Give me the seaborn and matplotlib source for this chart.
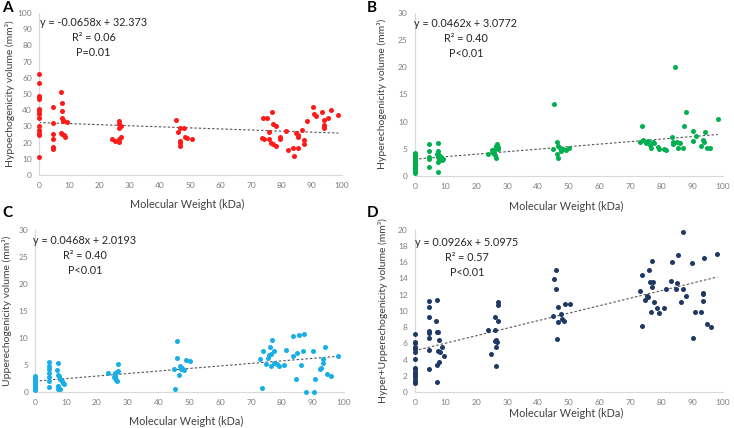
import numpy as np
import pandas as pd
import matplotlib
matplotlib.use('Agg')
import matplotlib.pyplot as plt
import seaborn as sns

## Data
# Panel A : hypoechogenicity
A_x = [0]*15 + [4.5]*6 + \
      [7.3, 7.5, 7.5, 7.5, 7.8, 7.3, 7.5, 8, 8.2, 8.5, 9.2] + \
      [24, 25, 26.3, 26.5, 26.5, 27, 27, 26.5, 26.3] + \
      [45.3, 45.8, 46.4, 47.7, 46.7, 46.4, 46.5, 48.1, 48.9, 50.5] + \
      [77, 74, 75.1, 77.3, 78.2, 75.9, 73.5, 74.4, 75.9, 76.6, 77.3, 78.2, 79.5, 79.5,
       81.4, 82.1, 83.9, 84.3, 85.6, 84.8, 85.6, 85.6, 86.9, 87.6, 87.6, 88.3, 90.5,
       90.9, 91.4, 93.3, 94, 94, 94, 95.3, 96.5, 98.8, 94]
A_y = [62.5, 57, 49, 48, 47, 41, 40, 38.5, 37.5, 35, 30, 28, 26, 24.5, 11] + \
      [42, 32, 25.5, 22, 17, 16] + \
      [51, 44.5, 39.5, 35, 33.5, 26, 25, 34, 24.5, 23.5, 33] + \
      [22, 21, 33.5, 31.5, 29, 30, 23.5, 22.5, 20.5] + \
      [34, 26.7, 28.8, 29, 21, 18, 20, 23.6, 22.6, 22] + \
      [39, 35.4, 35, 31.5, 30.2, 26.7, 23, 22.4, 22, 20, 19, 17.9, 23.3, 22,
       27.4, 15.4, 16.5, 11.9, 16.5, 26.1, 23.7, 24.5, 27.8, 21.6, 19.1, 33.3, 41.8,
       37.7, 36.6, 38.7, 34, 30.9, 28.8, 35, 40.3, 36.8, 30]

# Panel B : hyperechogenicity
B_x = [0]*13 + [4.5]*5 + \
      [7.5, 7.5, 7.3, 7.8, 7.5, 8, 8.5, 9, 9.3, 7.6, 7.5] + \
      [23.8, 25, 25.5, 26, 26.5, 26.8, 27, 26, 26.5, 27] + \
      [45.3, 45, 46, 46.5, 47, 46.5, 47.5, 48, 49, 50, 46] + \
      [73.6, 73.1, 74.2, 74.9, 75.8, 76.3, 76.6, 77.2, 77.6, 79, 79.3, 80.9, 81.5,
       83.3, 83.7, 83.9, 85, 85.5, 86.1, 87.1, 87.3, 87.9, 90.2, 90.4, 91.1, 92.8,
       93.4, 93.7, 94.1, 94.7, 95.8, 98.3, 84.5]
B_y = [4.2, 3.9, 3.6, 3.3, 3.0, 2.7, 2.4, 2.1, 1.8, 1.5, 1.2, 0.9, 0.6] + \
      [5.8, 4.6, 3.5, 3.1, 1.7] + \
      [6.0, 4.5, 4.1, 3.8, 3.4, 3.1, 3.5, 3.0, 3.2, 2.5, 0.8] + \
      [4.0, 4.8, 4.3, 5.0, 5.5, 5.8, 5.3, 3.8, 3.3, 4.9] + \
      [13.3, 5.0, 6.2, 5.5, 5.2, 3.3, 4.5, 5.0, 4.7, 5.1, 4.0] + \
      [9.2, 6.3, 6.6, 6.0, 6.5, 5.7, 5.1, 6.3, 6.0, 5.4, 5.0, 5.0, 4.7,
       7.1, 6.3, 5.8, 6.3, 5.1, 6.0, 5.2, 9.1, 11.7, 8.2, 6.5, 7.4, 5.5,
       6.6, 6.2, 8.1, 5.2, 5.2, 10.5, 20.0]

# Panel C : upperechogenicity
C_x = [0]*10 + [4.5]*7 + \
      [7.3, 7, 7.5, 7.8, 8, 8.3, 8.8, 9, 9.3, 7.5, 7.5, 8] + \
      [23.5, 26, 26.5, 26, 26, 26.3, 26.5, 27, 27, 25.5] + \
      [46, 46.1, 50.3, 48.9, 45.1, 45.5, 46.5, 46.9, 47.6, 48.2, 47.2] + \
      [73.7, 73, 73.9, 74.8, 75.4, 75.7, 76.2, 76.4, 76.8, 77.3, 77.5, 76.5, 78.4,
       79.2, 80.8, 81.4, 83.6, 83.6, 84.9, 85.4, 84.5, 86.3, 87, 87.2, 87.8, 90.1,
       90.3, 90.9, 92.4, 92.7, 93.3, 93.5, 94, 94.8, 95.9, 98.2]
C_y = [3.0, 2.7, 2.4, 2.1, 1.8, 1.5, 1.2, 0.9, 0.6, 0.3] + \
      [5.5, 4.9, 4.3, 3.5, 2.8, 2.0, 1.0] + \
      [5.3, 4.0, 3.2, 2.9, 2.5, 2.2, 2.0, 1.6, 1.4, 1.2, 0.6, 0.5] + \
      [3.5, 3.5, 3.8, 3.0, 2.6, 2.3, 2.1, 5.2, 3.9, 2.8] + \
      [9.4, 6.3, 5.7, 6.0, 4.3, 0.6, 3.2, 4.9, 4.5, 4.0, 4.2] + \
      [0.7, 6.1, 7.5, 5.1, 6.3, 6.9, 8.3, 7.0, 9.7, 7.5, 5.4, 4.9, 5.1,
       4.9, 5.0, 7.8, 10.3, 6.6, 7.3, 10.5, 2.4, 5.0, 7.5, 10.7, 0.1, 7.6,
       0.1, 2.4, 4.2, 4.5, 5.4, 6.1, 8.4, 3.3, 2.9, 6.6]

# Panel D : hyper + upperechogenicity
D_x = [0]*16 + [4.5]*8 + \
      [7.3, 7, 7.2, 7.6, 8, 7.5, 8.2, 9, 9.5, 8, 7.3, 7.3] + \
      [23.8, 24.9, 26.2, 26.9, 26, 25.9, 26.4, 26.6, 26.5, 26.5, 27, 27.1] + \
      [45.3, 45.8, 45.9, 44.9, 46.4, 46.4, 46.2, 47.5, 47.8, 48.3, 48.9, 50.3] + \
      [87.1, 85.5, 98.2, 93.8, 89.9, 83.6, 76.9, 76.1, 73.8, 76.3, 77.4, 76.9, 83.2,
       85, 84.8, 87.1, 81.5, 73.1, 75.2, 75.6, 74.8, 77.7, 87.9, 86.4, 93.4, 93.6,
       93.4, 78.7, 80.9, 79.1, 76.5, 90.9, 92.8, 73.6, 94.9, 96, 90.2]
D_y = [7.2, 6.2, 6.0, 5.6, 5.3, 4.9, 4.1, 3.0, 2.8, 2.5, 2.3, 2.1, 1.9, 1.5, 1.3, 1.1] + \
      [11.2, 10.5, 9.2, 7.5, 7.3, 6.7, 5.2, 2.9] + \
      [11.4, 8.8, 7.4, 7.4, 6.4, 5.0, 4.9, 5.5, 4.4, 3.7, 3.3, 1.3] + \
      [7.7, 4.7, 9.2, 8.7, 7.7, 6.3, 6.4, 6.2, 5.5, 3.2, 11.1, 10.7] + \
      [13.9, 12.7, 15.1, 9.4, 10.5, 8.6, 6.6, 9.6, 9.0, 8.7, 10.9, 10.8] + \
      [19.7, 16.9, 17.0, 16.5, 15.9, 16.0, 16.1, 15.0, 14.4, 13.6, 13.6, 12.9, 13.7,
       13.4, 12.7, 12.7, 12.7, 12.4, 11.9, 11.7, 11.3, 11.1, 11.9, 11.1, 12.2, 12.1,
       11.2, 10.4, 10.4, 9.7, 9.9, 9.9, 9.9, 8.2, 8.4, 8.0, 6.7]

letters   = ['A', 'B', 'C', 'D']
slopes    = [-0.0658, 0.0462, 0.0468, 0.0926]
intercept = [32.373, 3.0772, 2.0193, 5.0975]
eq_text   = ['y = -0.0658x + 32.373\nR² = 0.06\nP=0.01',
             'y = 0.0462x + 3.0772\nR² = 0.40\nP<0.01',
             'y = 0.0468x + 2.0193\nR² = 0.40\nP<0.01',
             'y = 0.0926x + 5.0975\nR² = 0.57\nP<0.01']
ylabels   = ['Hypoechogenicity volume (mm³)',
             'Hyperechogenicity volume (mm³)',
             'Upperechogenicity volume (mm³)',
             'Hyper+Upperechogenicity volume (mm³)']
ymax      = [100, 30, 30, 20]
ystep     = [10, 5, 5, 2]
colors    = ['#ff1a1a', '#00b050', '#18aee8', '#1f3864']
datasets  = [(A_x, A_y), (B_x, B_y), (C_x, C_y), (D_x, D_y)]

## Layout (figure fractions)
positions = [[0.053, 0.591, 0.413, 0.379],
             [0.565, 0.589, 0.420, 0.381],
             [0.048, 0.084, 0.420, 0.379],
             [0.565, 0.084, 0.420, 0.379]]
eq_pos    = [(0.18, 0.975), (0.166, 0.968), (0.161, 0.968), (0.169, 0.955)]
ylab_x    = [-0.079, -0.091, -0.075, -0.088]
xlab_y    = [-0.148, -0.154, -0.148, -0.099]
letter_xy = [(0.003, 0.998), (0.500, 0.998), (0.003, 0.518), (0.500, 0.518)]

sns.set_style('white')
plt.rcParams['font.family'] = ['Lato', 'DejaVu Sans']

fig = plt.figure(figsize=(7.34, 4.28), dpi=100)

for i in range(4):
    ax = fig.add_axes(positions[i])
    df = pd.DataFrame({'x': datasets[i][0], 'y': datasets[i][1]})
    sns.scatterplot(data=df, x='x', y='y', ax=ax, color=colors[i], s=13,
                    linewidth=0, clip_on=False, zorder=3)

    # trend line from the printed equation
    xs = np.linspace(0, max(datasets[i][0]), 50)
    ax.plot(xs, intercept[i] + slopes[i]*xs, color='#555555', lw=0.8,
            ls=(0, (2.2, 1.8)), zorder=2)

    ax.set_xlim(0, 100)
    ax.set_ylim(0, ymax[i])
    ax.set_xticks(np.arange(0, 101, 10))
    ax.set_yticks(np.arange(0, ymax[i]+0.1, ystep[i]))
    ax.tick_params(axis='both', length=0, labelsize=6, colors='#7f7f7f', pad=5)
    for sp in ['top', 'right']:
        ax.spines[sp].set_visible(False)
    for sp in ['left', 'bottom']:
        ax.spines[sp].set_color('#d9d9d9')
        ax.spines[sp].set_linewidth(0.8)

    ax.set_ylabel(ylabels[i], fontsize=7.5, color='#404040')
    ax.yaxis.set_label_coords(ylab_x[i], 0.5)
    ax.set_xlabel('Molecular Weight (kDa)', fontsize=7.8, color='#404040')
    ax.xaxis.set_label_coords(0.49, xlab_y[i])

    ax.text(eq_pos[i][0], eq_pos[i][1], eq_text[i], transform=ax.transAxes,
            ha='center', va='top', multialignment='center', fontsize=7.8,
            color='#262626', linespacing=1.45)

    fig.text(letter_xy[i][0], letter_xy[i][1], letters[i], ha='left', va='top',
             fontsize=11, fontweight='bold', color='black')

fig.savefig('out.png', dpi=100)
